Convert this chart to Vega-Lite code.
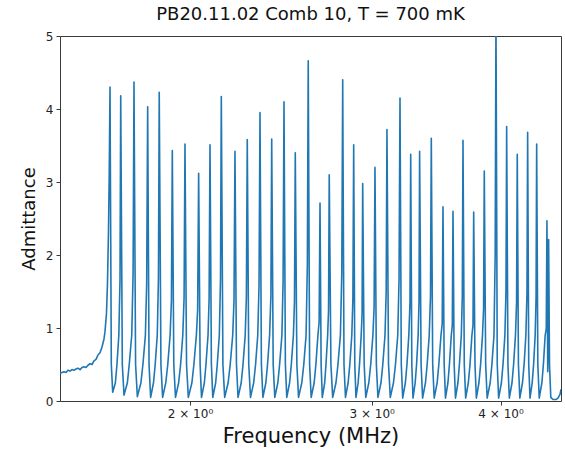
{
"$schema": "https://vega.github.io/schema/vega-lite/v6.json",
"width": 501,
"height": 365,
"autosize": "none",
"padding": {"left": 60, "top": 36, "right": 4, "bottom": 54},
"title": {"text": "PB20.11.02 Comb 10, T = 700 mK", "fontSize": 18, "font": "DejaVu Sans", "fontWeight": "normal", "color": "#111111", "offset": 6, "anchor": "middle"},
"data": {"values": [
{"f":1.4962,"a":0.38},{"f":1.5029,"a":0.39},{"f":1.5096,"a":0.40},{"f":1.5163,"a":0.39},{"f":1.5229,"a":0.42},{"f":1.5300,"a":0.41},{"f":1.5368,"a":0.43},{"f":1.5437,"a":0.42},{"f":1.5505,"a":0.44},{"f":1.5574,"a":0.45},{"f":1.5646,"a":0.43},{"f":1.5716,"a":0.46},{"f":1.5786,"a":0.47},{"f":1.5856,"a":0.46},{"f":1.5926,"a":0.49},{"f":1.5999,"a":0.51},{"f":1.6071,"a":0.50},{"f":1.6142,"a":0.55},{"f":1.6214,"a":0.57},{"f":1.6285,"a":0.63},{"f":1.6360,"a":0.66},{"f":1.6433,"a":0.74},{"f":1.6506,"a":0.85},{"f":1.6543,"a":0.95},{"f":1.6598,"a":1.2},{"f":1.6634,"a":1.6},{"f":1.6671,"a":2.3},{"f":1.6700,"a":3.1},{"f":1.6729,"a":4.30},
{"f":1.6778,"a":0.5},{"f":1.6830,"a":0.12},{"f":1.6931,"a":0.25},{"f":1.6991,"a":0.5},{"f":1.7062,"a":0.9},{"f":1.7107,"a":1.67},{"f":1.7134,"a":4.18},
{"f":1.7195,"a":0.5},{"f":1.7260,"a":0.08},{"f":1.7390,"a":0.25},{"f":1.7463,"a":0.5},{"f":1.7560,"a":0.9},{"f":1.7614,"a":1.75},{"f":1.7649,"a":4.37},
{"f":1.7712,"a":0.5},{"f":1.7782,"a":0.06},{"f":1.7924,"a":0.25},{"f":1.8004,"a":0.5},{"f":1.8104,"a":0.9},{"f":1.8156,"a":1.61},{"f":1.8196,"a":4.03},
{"f":1.8252,"a":0.5},{"f":1.8317,"a":0.05},{"f":1.8435,"a":0.25},{"f":1.8505,"a":0.5},{"f":1.8590,"a":0.9},{"f":1.8640,"a":1.69},{"f":1.8672,"a":4.23},
{"f":1.8743,"a":0.5},{"f":1.8814,"a":0.05},{"f":1.8947,"a":0.25},{"f":1.9031,"a":0.5},{"f":1.9131,"a":0.9},{"f":1.9187,"a":1.37},{"f":1.9225,"a":3.43},
{"f":1.9289,"a":0.5},{"f":1.9362,"a":0.05},{"f":1.9499,"a":0.25},{"f":1.9584,"a":0.5},{"f":1.9680,"a":0.9},{"f":1.9737,"a":1.41},{"f":1.9777,"a":3.52},
{"f":1.9846,"a":0.5},{"f":1.9925,"a":0.05},{"f":2.0085,"a":0.25},{"f":2.0174,"a":0.5},{"f":2.0286,"a":0.9},{"f":2.0344,"a":1.25},{"f":2.0389,"a":3.12},
{"f":2.0456,"a":0.5},{"f":2.0520,"a":0.05},{"f":2.0652,"a":0.25},{"f":2.0725,"a":0.5},{"f":2.0821,"a":0.9},{"f":2.0871,"a":1.40},{"f":2.0913,"a":3.51},
{"f":2.0978,"a":0.5},{"f":2.1044,"a":0.05},{"f":2.1179,"a":0.25},{"f":2.1254,"a":0.5},{"f":2.1352,"a":0.9},{"f":2.1409,"a":1.67},{"f":2.1447,"a":4.17},
{"f":2.1524,"a":0.5},{"f":2.1610,"a":0.05},{"f":2.1777,"a":0.25},{"f":2.1878,"a":0.5},{"f":2.2000,"a":0.9},{"f":2.2064,"a":1.37},{"f":2.2112,"a":3.42},
{"f":2.2186,"a":0.5},{"f":2.2264,"a":0.05},{"f":2.2422,"a":0.25},{"f":2.2512,"a":0.5},{"f":2.2622,"a":0.9},{"f":2.2682,"a":1.43},{"f":2.2727,"a":3.58},
{"f":2.2802,"a":0.5},{"f":2.2892,"a":0.05},{"f":2.3055,"a":0.25},{"f":2.3152,"a":0.5},{"f":2.3265,"a":0.9},{"f":2.3331,"a":1.58},{"f":2.3382,"a":3.95},
{"f":2.3455,"a":0.5},{"f":2.3534,"a":0.05},{"f":2.3690,"a":0.25},{"f":2.3779,"a":0.5},{"f":2.3889,"a":0.9},{"f":2.3958,"a":1.44},{"f":2.4001,"a":3.59},
{"f":2.4081,"a":0.5},{"f":2.4167,"a":0.05},{"f":2.4332,"a":0.25},{"f":2.4428,"a":0.5},{"f":2.4554,"a":0.9},{"f":2.4619,"a":1.64},{"f":2.4669,"a":4.10},
{"f":2.4745,"a":0.5},{"f":2.4822,"a":0.05},{"f":2.4980,"a":0.25},{"f":2.5075,"a":0.5},{"f":2.5192,"a":0.9},{"f":2.5253,"a":1.36},{"f":2.5298,"a":3.40},
{"f":2.5388,"a":0.5},{"f":2.5483,"a":0.05},{"f":2.5669,"a":0.25},{"f":2.5783,"a":0.5},{"f":2.5915,"a":0.9},{"f":2.5989,"a":1.86},{"f":2.6040,"a":4.66},
{"f":2.6120,"a":0.5},{"f":2.6213,"a":0.05},{"f":2.6388,"a":0.25},{"f":2.6488,"a":0.5},{"f":2.6610,"a":0.9},{"f":2.6681,"a":1.08},{"f":2.6734,"a":2.71},
{"f":2.6800,"a":0.5},{"f":2.6871,"a":0.05},{"f":2.7015,"a":0.25},{"f":2.7092,"a":0.5},{"f":2.7194,"a":0.9},{"f":2.7248,"a":1.24},{"f":2.7290,"a":3.10},
{"f":2.7392,"a":0.5},{"f":2.7502,"a":0.05},{"f":2.7704,"a":0.25},{"f":2.7826,"a":0.5},{"f":2.7979,"a":0.9},{"f":2.8066,"a":1.76},{"f":2.8123,"a":4.40},
{"f":2.8204,"a":0.5},{"f":2.8298,"a":0.05},{"f":2.8466,"a":0.25},{"f":2.8573,"a":0.5},{"f":2.8700,"a":0.9},{"f":2.8770,"a":1.40},{"f":2.8821,"a":3.51},
{"f":2.8892,"a":0.5},{"f":2.8968,"a":0.05},{"f":2.9109,"a":0.25},{"f":2.9198,"a":0.5},{"f":2.9308,"a":0.9},{"f":2.9367,"a":1.19},{"f":2.9406,"a":2.98},
{"f":2.9504,"a":0.5},{"f":2.9609,"a":0.05},{"f":2.9811,"a":0.25},{"f":2.9937,"a":0.5},{"f":3.0084,"a":0.9},{"f":3.0164,"a":1.28},{"f":3.0224,"a":3.20},
{"f":3.0318,"a":0.5},{"f":3.0424,"a":0.05},{"f":3.0633,"a":0.25},{"f":3.0756,"a":0.5},{"f":3.0907,"a":0.9},{"f":3.0989,"a":1.49},{"f":3.1043,"a":3.72},
{"f":3.1152,"a":0.5},{"f":3.1276,"a":0.05},{"f":3.1499,"a":0.25},{"f":3.1639,"a":0.5},{"f":3.1800,"a":0.9},{"f":3.1891,"a":1.66},{"f":3.1960,"a":4.15},
{"f":3.2053,"a":0.5},{"f":3.2153,"a":0.04},{"f":3.2346,"a":0.25},{"f":3.2460,"a":0.5},{"f":3.2596,"a":0.9},{"f":3.2682,"a":1.35},{"f":3.2733,"a":3.38},
{"f":3.2814,"a":0.5},{"f":3.2901,"a":0.04},{"f":3.3062,"a":0.25},{"f":3.3164,"a":0.5},{"f":3.3281,"a":0.9},{"f":3.3347,"a":1.37},{"f":3.3390,"a":3.42},
{"f":3.3502,"a":0.5},{"f":3.3614,"a":0.04},{"f":3.3831,"a":0.25},{"f":3.3958,"a":0.5},{"f":3.4115,"a":0.9},{"f":3.4212,"a":1.44},{"f":3.4273,"a":3.60},
{"f":3.4380,"a":0.5},{"f":3.4495,"a":0.04},{"f":3.4724,"a":0.25},{"f":3.4854,"a":0.5},{"f":3.5023,"a":0.9},{"f":3.5117,"a":1.06},{"f":3.5179,"a":2.66},
{"f":3.5273,"a":0.5},{"f":3.5375,"a":0.04},{"f":3.5570,"a":0.25},{"f":3.5687,"a":0.5},{"f":3.5838,"a":0.9},{"f":3.5918,"a":1.04},{"f":3.5974,"a":2.60},
{"f":3.6069,"a":0.5},{"f":3.6173,"a":0.04},{"f":3.6373,"a":0.25},{"f":3.6493,"a":0.5},{"f":3.6647,"a":0.9},{"f":3.6729,"a":1.43},{"f":3.6786,"a":3.57},
{"f":3.6892,"a":0.5},{"f":3.7006,"a":0.04},{"f":3.7227,"a":0.25},{"f":3.7366,"a":0.5},{"f":3.7525,"a":0.9},{"f":3.7617,"a":1.04},{"f":3.7675,"a":2.59},
{"f":3.7784,"a":0.5},{"f":3.7900,"a":0.04},{"f":3.8118,"a":0.25},{"f":3.8260,"a":0.5},{"f":3.8423,"a":0.9},{"f":3.8516,"a":1.26},{"f":3.8576,"a":3.15},
{"f":3.8696,"a":0.5},{"f":3.8824,"a":0.04},{"f":3.9089,"a":0.25},{"f":3.9238,"a":0.5},{"f":3.9421,"a":0.9},{"f":3.9526,"a":2.0},{"f":3.9596,"a":5.3},
{"f":3.9709,"a":0.5},{"f":3.9832,"a":0.04},{"f":4.0079,"a":0.25},{"f":4.0222,"a":0.5},{"f":4.0392,"a":0.9},{"f":4.0490,"a":1.50},{"f":4.0552,"a":3.76},
{"f":4.0668,"a":0.5},{"f":4.0793,"a":0.04},{"f":4.1039,"a":0.25},{"f":4.1185,"a":0.5},{"f":4.1358,"a":0.9},{"f":4.1459,"a":1.35},{"f":4.1523,"a":3.38},
{"f":4.1632,"a":0.5},{"f":4.1760,"a":0.04},{"f":4.2011,"a":0.25},{"f":4.2161,"a":0.5},{"f":4.2329,"a":0.9},{"f":4.2432,"a":1.47},{"f":4.2497,"a":3.68},
{"f":4.2600,"a":0.5},{"f":4.2721,"a":0.04},{"f":4.2931,"a":0.25},{"f":4.3065,"a":0.5},{"f":4.3217,"a":0.9},{"f":4.3303,"a":1.41},{"f":4.3361,"a":3.52},
{"f":4.3475,"a":0.5},{"f":4.3609,"a":0.04},{"f":4.3870,"a":0.25},{"f":4.4017,"a":0.5},{"f":4.4193,"a":0.9},{"f":4.4300,"a":0.99},{"f":4.4368,"a":2.47},
{"f":4.4446,"a":0.4},{"f":4.4495,"a":1.0},{"f":4.4534,"a":2.21},{"f":4.4622,"a":0.5},{"f":4.4751,"a":0.05},{"f":4.4971,"a":0.02},{"f":4.5270,"a":0.02},{"f":4.5470,"a":0.04},{"f":4.5680,"a":0.09},{"f":4.5782,"a":0.16}
]},
"mark": {"type": "line", "color": "#1f77b4", "strokeWidth": 1.6, "strokeJoin": "round", "clip": true},
"encoding": {
  "x": {"field": "f", "type": "quantitative",
        "scale": {"type": "log", "domain": [1.4962, 4.5782], "nice": false, "zero": false},
        "axis": {"values": [2, 3, 4], "labelExpr": "datum.value + ' × 10⁰'", "title": "Frequency (MHz)", "titleFontSize": 21, "titlePadding": 6, "labelPadding": 3, "labelOverlap": false, "labelFlush": false}},
  "y": {"field": "a", "type": "quantitative",
        "scale": {"domain": [0, 5], "nice": false, "zero": false},
        "axis": {"values": [0, 1, 2, 3, 4, 5], "title": "Admittance", "titleFontSize": 18, "titlePadding": 7, "labelPadding": 3}}
},
"config": {
  "font": "DejaVu Sans",
  "view": {"stroke": "#3a3a3a", "strokeWidth": 1},
  "axis": {"domain": false, "grid": false, "ticks": true, "tickColor": "#3a3a3a", "tickSize": 4, "tickWidth": 1,
           "labelFont": "DejaVu Sans", "labelFontSize": 12, "labelColor": "#222222",
           "titleFont": "DejaVu Sans", "titleFontWeight": "normal", "titleColor": "#111111"}
}
}
